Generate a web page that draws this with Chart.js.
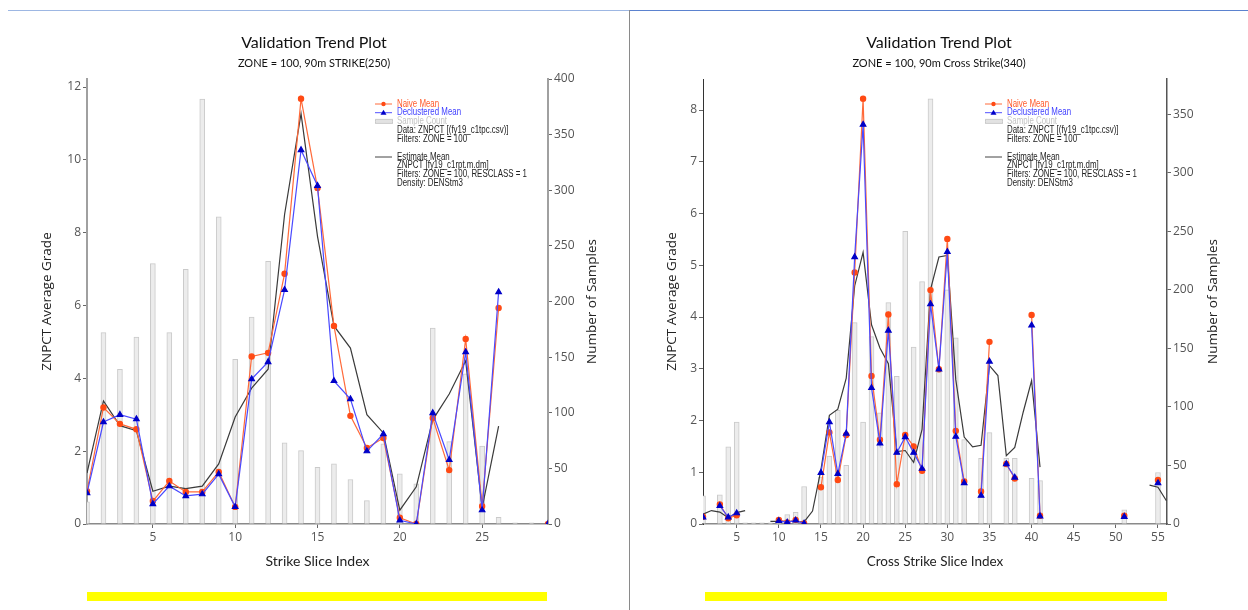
<!DOCTYPE html>
<html>
<head>
<meta charset="utf-8">
<script src="https://cdn.jsdelivr.net/npm/chart.js@4.4.0/dist/chart.umd.min.js"></script>
<style>
  body { margin: 0; background: #fff; width: 1248px; height: 610px; overflow: hidden; position: relative; }
  canvas { position: absolute; top: 0; }
  #strikeChart { left: 0; }
  #crossChart { left: 630px; }
  .topline { position: absolute; top: 10px; height: 1px; }
  .sep { position: absolute; left: 629px; top: 10px; width: 1px; height: 600px; background: #8a8a8a; }
  .yellow { position: absolute; top: 592px; height: 9px; background: #ffff00; }
</style>
</head>
<body>
<div class="topline" style="left:8px;width:621px;background:#9db7e3"></div>
<div class="topline" style="left:630px;width:618px;background:#5b82cf"></div>
<div class="sep"></div>
<canvas id="strikeChart" width="628" height="580"></canvas>
<canvas id="crossChart" width="618" height="580"></canvas>
<div class="yellow" style="left:87px;width:460px"></div>
<div class="yellow" style="left:705px;width:462px"></div>
<script>
// ---- strike chart data (slice index 1..29)
const strikeIdx = [1,2,3,4,5,6,7,8,9,10,11,12,13,14,15,16,17,18,19,20,21,22,23,24,25,26,27,28,29];
const strikeCount = [20,172,139,168,234,172,229,382,276,148,186,236,73,66,51,54,40,21,72,45,36,176,74,135,70,6,1,1,0];
const strikeNaive = [0.9,3.2,2.75,2.6,0.63,1.18,0.88,0.88,1.43,0.47,4.6,4.7,6.87,11.68,9.23,5.44,2.97,2.09,2.36,0.17,0,2.91,1.48,5.08,0.49,5.93,null,null,0];
const strikeDeclus = [0.85,2.8,3.0,2.88,0.55,1.04,0.77,0.82,1.37,0.47,3.98,4.45,6.43,10.27,9.29,3.93,3.43,2.0,2.47,0.1,0,3.05,1.76,4.72,0.38,6.37,null,null,0];
const strikeEst = [1.4,3.38,2.7,2.56,0.9,1.04,0.97,1.04,1.65,2.94,3.73,4.25,8.5,11.27,7.9,5.44,4.83,3.0,2.5,0.38,1.02,2.86,3.57,4.48,0.44,2.69,null,null,null];

// ---- cross strike chart data (slice index 1..56)
const crossIdx = [1,2,3,4,5,6,7,8,9,10,11,12,13,14,15,16,17,18,19,20,21,22,23,24,25,26,27,28,29,30,31,32,33,34,35,36,37,38,39,40,41,42,43,44,45,46,47,48,49,50,51,52,53,54,55,56];
const crossCount = [24,0,25,66,87,1,1,1,1,5,8,10,32,0,40,58,97,50,172,87,160,95,189,126,250,151,207,363,130,200,159,72,0,56,78,0,56,56,0,39,37,0,0,0,0,0,0,0,0,0,12,0,0,0,44,0];
const crossNaive = [0.14,null,0.38,0.11,0.17,null,null,null,null,0.08,0.03,0.08,0.01,null,0.71,1.77,0.85,1.72,4.86,8.22,2.86,1.63,4.05,0.77,1.72,1.5,1.03,4.52,2.99,5.51,1.8,0.82,null,0.63,3.52,null,1.16,0.88,null,4.04,0.16,null,null,null,null,null,null,null,null,null,0.16,null,null,null,0.85,null];
const crossDeclus = [0.13,null,0.35,0.13,0.21,null,null,null,null,0.06,0.03,0.07,0.01,null,0.99,1.97,0.97,1.75,5.16,7.72,2.63,1.56,3.74,1.38,1.68,1.38,1.07,4.25,2.99,5.26,1.69,0.79,null,0.55,3.14,null,1.16,0.9,null,3.84,0.15,null,null,null,null,null,null,null,null,null,0.14,null,null,null,0.79,null];
const crossEst = [0.19,0.26,0.23,0.12,0.22,0.26,null,null,0.05,0.05,0.05,0.05,0.04,0.25,1.05,2.1,2.22,2.82,4.6,5.25,3.85,3.4,3.1,1.4,1.42,1.19,1.83,4.53,5.16,5.19,2.79,1.68,1.49,1.52,3.06,2.87,1.32,1.48,2.16,2.77,1.1,null,null,null,null,null,null,null,null,null,null,null,null,0.75,0.71,0.45];

// ---- tick labels
const strikeXTicks = [5,10,15,20,25];
const crossXTicks = [5,10,15,20,25,30,35,40,45,50,55];
const strikeGradeTicks = [0,2,4,6,8,10,12];
const crossGradeTicks = [0,1,2,3,4,5,6,7,8];
const strikeCountTicks = [0,50,100,150,200,250,300,350,400];
const crossCountTicks = [0,50,100,150,200,250,300,350];

const legendLines = ['Data: ZNPCT [(fy19_c1tpc.csv)]', 'Filters: ZONE = 100'];
const estLines = ['ZNPCT [fy19_c1rpt.m.dm]', 'Filters: ZONE = 100, RESCLASS = 1', 'Density: DENStm3'];

const NAIVE = '#ff4a14', DECL = '#0000c8';

const pts = (xs, ys) => xs.map((x, i) => ({ x: x, y: ys[i] }));
const fixTicks = list => s => { s.ticks = list.map(v => ({ value: v })); };

// narrow text, like the source tool's legend font
function narrowText(ctx, t, x, y) {
  ctx.save();
  ctx.translate(x, y);
  ctx.scale(0.79, 1);
  ctx.fillText(t, 0, 0);
  ctx.restore();
}

// custom legend + right axis title (reads bottom to top like the left one)
function trendExtras(x0, rightTitleX) {
  return {
    id: 'trendExtras',
    afterDraw(chart) {
      const ctx = chart.ctx;
      const tx = x0 + 22, lh = 8.7;
      ctx.save();
      ctx.font = '10px "Liberation Sans", Arial, sans-serif';
      ctx.textBaseline = 'middle';
      let y = 104;
      ctx.strokeStyle = '#ff6a3a'; ctx.lineWidth = 1;
      ctx.beginPath(); ctx.moveTo(x0, y); ctx.lineTo(x0 + 17, y); ctx.stroke();
      ctx.fillStyle = NAIVE; ctx.beginPath(); ctx.arc(x0 + 8.5, y, 2.2, 0, Math.PI * 2); ctx.fill();
      ctx.fillStyle = '#ff5a2a'; narrowText(ctx, 'Naive Mean', tx, y);
      y += lh;
      ctx.strokeStyle = '#5050ff';
      ctx.beginPath(); ctx.moveTo(x0, y); ctx.lineTo(x0 + 17, y); ctx.stroke();
      ctx.fillStyle = DECL; ctx.beginPath();
      ctx.moveTo(x0 + 8.5, y - 3); ctx.lineTo(x0 + 11.5, y + 2); ctx.lineTo(x0 + 5.5, y + 2); ctx.closePath(); ctx.fill();
      ctx.fillStyle = '#4040ff'; narrowText(ctx, 'Declustered Mean', tx, y);
      y += lh;
      ctx.fillStyle = '#e2e2e2'; ctx.fillRect(x0, y - 2.5, 18, 5);
      ctx.strokeStyle = '#b8b8b8'; ctx.setLineDash([1, 1]); ctx.strokeRect(x0 + 0.5, y - 2, 17, 4); ctx.setLineDash([]);
      ctx.fillStyle = '#c4c4c4'; narrowText(ctx, 'Sample Count', tx, y);
      ctx.fillStyle = '#222';
      legendLines.forEach(t => { y += lh; narrowText(ctx, t, tx, y); });
      y = 157;
      ctx.strokeStyle = '#444';
      ctx.beginPath(); ctx.moveTo(x0, y); ctx.lineTo(x0 + 17, y); ctx.stroke();
      narrowText(ctx, 'Estimate Mean', tx, y);
      estLines.forEach(t => { y += lh; narrowText(ctx, t, tx, y); });

      const a = chart.chartArea;
      ctx.translate(rightTitleX, (a.top + a.bottom) / 2);
      ctx.rotate(-Math.PI / 2);
      ctx.font = '13.5px "Open Sans", sans-serif';
      ctx.fillStyle = '#222';
      ctx.textAlign = 'center';
      ctx.fillText('Number of Samples', 0, 0);
      ctx.restore();
    }
  };
}

function makeChart(id, cfg) {
  const tickFont = { family: '"Open Sans", sans-serif', size: 12 };
  const axisFont = { family: '"Open Sans", sans-serif', size: 13.5 };
  return new Chart(document.getElementById(id), {
    type: 'line',
    data: {
      datasets: [
        { type: 'bar', label: 'Sample Count', data: pts(cfg.idx, cfg.count), yAxisID: 'yCount',
          backgroundColor: '#ececec', borderColor: '#cacaca', borderWidth: 1, barThickness: 5, order: 4 },
        { label: 'Estimate Mean', data: pts(cfg.idx, cfg.est), yAxisID: 'yGrade',
          borderColor: '#3a3a3a', borderWidth: 1.2, pointRadius: 0, spanGaps: false, order: 3 },
        { label: 'Naive Mean', data: pts(cfg.idx, cfg.naive), yAxisID: 'yGrade',
          borderColor: '#ff6a3a', borderWidth: 1.2, pointRadius: 2.6, pointStyle: 'circle',
          pointBackgroundColor: NAIVE, pointBorderColor: NAIVE, spanGaps: false, order: 2 },
        { label: 'Declustered Mean', data: pts(cfg.idx, cfg.declus), yAxisID: 'yGrade',
          borderColor: '#4a4aff', borderWidth: 1.2, pointRadius: 3.2, pointStyle: 'triangle',
          pointBackgroundColor: DECL, pointBorderColor: DECL, spanGaps: false, order: 1 }
      ]
    },
    options: {
      responsive: false,
      animation: false,
      layout: { padding: { top: 10, left: 0, right: 0, bottom: 0 } },
      plugins: {
        legend: { display: false },
        tooltip: { enabled: false },
        title: { display: true, text: 'Validation Trend Plot', color: '#111',
          font: { family: 'Lato, sans-serif', size: 16, weight: 'normal' }, padding: { top: 23.4, bottom: 0 } },
        subtitle: { display: true, text: cfg.subtitle, color: '#111',
          font: { family: 'Lato, sans-serif', size: 11 }, padding: { top: 3.8, bottom: 9.4 } }
      },
      scales: {
        x: {
          type: 'linear', min: cfg.idx[0], max: cfg.xMax, offset: false,
          afterBuildTicks: fixTicks(cfg.xTicks),
          afterFit: s => { s.height = 56; },
          grid: { display: true, drawOnChartArea: false, drawTicks: true, tickLength: 4, color: '#666', offset: false },
          border: { display: true, color: '#8a8a8a', width: 1.5 },
          ticks: { color: '#555', font: tickFont, padding: 2, maxRotation: 0 },
          title: { display: true, text: cfg.xTitle, color: '#222',
            font: { family: 'Lato, sans-serif', size: cfg.xTitleSize }, padding: { top: 0, bottom: 10 } }
        },
        yGrade: {
          type: 'linear', position: 'left', min: 0, max: cfg.gradeMax,
          afterBuildTicks: fixTicks(cfg.gradeTicks),
          afterFit: s => { s.width = cfg.leftW; },
          grid: { display: true, drawOnChartArea: false, drawTicks: true, tickLength: 4, color: '#666' },
          border: { display: true, color: cfg.leftAxisColor, width: cfg.leftAxisWidth },
          ticks: { color: '#555', font: tickFont, padding: 2 },
          title: { display: true, text: 'ZNPCT Average Grade', color: '#222', font: axisFont,
            padding: { top: cfg.leftTitlePad, bottom: 0 } }
        },
        yCount: {
          type: 'linear', position: 'right', min: 0, max: cfg.countMax,
          afterBuildTicks: fixTicks(cfg.countTicks),
          afterFit: s => { s.width = cfg.rightW; },
          grid: { display: true, drawOnChartArea: false, drawTicks: true, tickLength: 4, color: '#666' },
          border: { display: true, color: cfg.rightAxisColor, width: cfg.rightAxisWidth },
          ticks: { color: '#555', font: tickFont, padding: 2 },
          title: { display: false }
        }
      }
    },
    plugins: [trendExtras(cfg.legendX, cfg.rightTitleX)]
  });
}

makeChart('strikeChart', {
  idx: strikeIdx, count: strikeCount, naive: strikeNaive, declus: strikeDeclus, est: strikeEst,
  subtitle: 'ZONE = 100, 90m STRIKE(250)', xTitle: 'Strike Slice Index', xTitleSize: 14, xMax: 29,
  xTicks: strikeXTicks, gradeTicks: strikeGradeTicks, countTicks: strikeCountTicks,
  gradeMax: 12.22, countMax: 400, leftW: 87, rightW: 80, leftTitlePad: 38.6, rightTitleX: 592,
  leftAxisColor: '#a0a0a0', leftAxisWidth: 2, rightAxisColor: '#a0a0a0', rightAxisWidth: 2, legendX: 375
});

makeChart('crossChart', {
  idx: crossIdx, count: crossCount, naive: crossNaive, declus: crossDeclus, est: crossEst,
  subtitle: 'ZONE = 100, 90m Cross Strike(340)', xTitle: 'Cross Strike Slice Index', xTitleSize: 13.5, xMax: 56.07,
  xTicks: crossXTicks, gradeTicks: crossGradeTicks, countTicks: crossCountTicks,
  gradeMax: 8.6, countMax: 380, leftW: 73, rightW: 81, leftTitlePad: 33.6, rightTitleX: 583,
  leftAxisColor: '#333', leftAxisWidth: 1, rightAxisColor: '#555', rightAxisWidth: 1.5, legendX: 355
});
</script>
</body>
</html>
